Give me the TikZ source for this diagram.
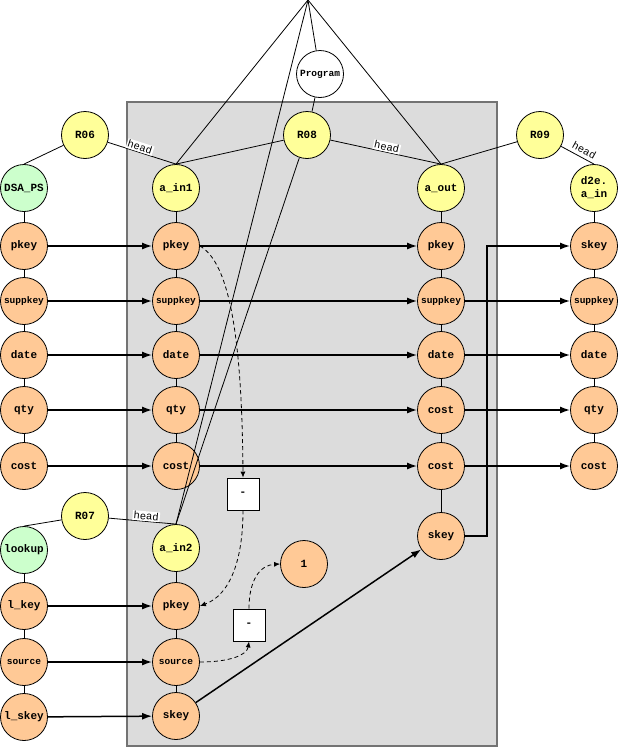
\documentclass[tikz,border=0pt]{standalone}
\usepackage{fontspec}
\setmonofont{Liberation Mono}
\usetikzlibrary{arrows.meta}
\definecolor{fldc}{HTML}{FFC996}
\definecolor{relc}{HTML}{FFFF99}
\definecolor{tblc}{HTML}{CCFFCC}
\definecolor{boxc}{HTML}{DCDCDC}

\begin{document}
\begin{tikzpicture}[x=1pt,y=-1pt,line width=0.8pt,
    every node/.style={font=\ttfamily\bfseries\fontsize{11}{12}\selectfont},
    circ/.style={circle,draw,minimum size=47pt,inner sep=0pt},
    fld/.style={circ,fill=fldc},
    rel/.style={circ,fill=relc},
    tbl/.style={circ,fill=tblc},
    small/.style={font=\ttfamily\bfseries\fontsize{9.5}{10}\selectfont},
    op/.style={draw,fill=white,minimum size=32pt,inner sep=0pt},
    flow/.style={line width=1.5pt,-{Latex[length=10pt,width=7pt]}},
    dflow/.style={dash pattern=on 4pt off 3pt,-{Latex[length=6pt,width=5pt]}},
    hd/.style={sloped,above,fill=white,inner sep=1pt,
        font=\ttfamily\fontsize{10.5}{10}\selectfont}]
    \useasboundingbox (0,0) rectangle (618,747);

    \draw[line width=1.4pt,draw=black!55,fill=boxc] (127,102) rectangle (497,746);
    \coordinate (top) at (308,0);

    % left tables
    \node[rel] (r06) at (85,135) {R06};
    \node[tbl] (dsa) at (24,188) {DSA\_PS};
    \node[fld] (lpkey) at (24,246) {pkey};
    \node[fld,small] (lsupp) at (24,301) {suppkey};
    \node[fld] (ldate) at (24,355) {date};
    \node[fld] (lqty) at (24,410) {qty};
    \node[fld] (lcost) at (24,466) {cost};
    \node[rel] (r07) at (85,516) {R07};
    \node[tbl] (look) at (24,550) {lookup};
    \node[fld] (lkey) at (24,606) {l\_key};
    \node[fld,small] (lsrc) at (24,662) {source};
    \node[fld] (lskey) at (24,717) {l\_skey};

    % program
    \node[circ,fill=white,small] (prog) at (320,74) {Program};
    \node[rel] (r08) at (307,135) {R08};
    \node[rel] (ain1) at (176,188) {a\_in1};
    \node[fld] (apkey) at (176,246) {pkey};
    \node[fld,small] (asupp) at (176,301) {suppkey};
    \node[fld] (adate) at (176,355) {date};
    \node[fld] (aqty) at (176,410) {qty};
    \node[fld] (acost) at (176,466) {cost};
    \node[rel] (ain2) at (176,548) {a\_in2};
    \node[fld] (bpkey) at (176,606) {pkey};
    \node[fld,small] (bsrc) at (176,662) {source};
    \node[fld] (bskey) at (176,716) {skey};
    \node[op] (m1) at (243,494) {-};
    \node[op] (m2) at (249,625) {-};
    \node[fld] (one) at (304,564) {1};
    \node[rel] (aout) at (441,188) {a\_out};
    \node[fld] (opkey) at (441,246) {pkey};
    \node[fld,small] (osupp) at (441,301) {suppkey};
    \node[fld] (odate) at (441,355) {date};
    \node[fld] (ocost) at (441,410) {cost};
    \node[fld] (ocost2) at (441,466) {cost};
    \node[fld] (oskey) at (441,536) {skey};

    % right table
    \node[rel] (r09) at (540,135) {R09};
    \node[rel,align=center,font=\ttfamily\bfseries\fontsize{11}{13}\selectfont] (din) at (594,188) {d2e.\\a\_in};
    \node[fld] (dskey) at (594,246) {skey};
    \node[fld,small] (dsupp) at (594,301) {suppkey};
    \node[fld] (ddate) at (594,355) {date};
    \node[fld] (dqty) at (594,410) {qty};
    \node[fld] (dcost) at (594,466) {cost};

    % structure
    \foreach \a/\b in {dsa/lpkey,lpkey/lsupp,lsupp/ldate,ldate/lqty,lqty/lcost,
        look/lkey,lkey/lsrc,lsrc/lskey,ain1/apkey,apkey/asupp,asupp/adate,
        adate/aqty,aqty/acost,ain2/bpkey,bpkey/bsrc,bsrc/bskey,aout/opkey,
        opkey/osupp,osupp/odate,odate/ocost,ocost/ocost2,ocost2/oskey,
        din/dskey,dskey/dsupp,dsupp/ddate,ddate/dqty,dqty/dcost}
        \draw (\a) -- (\b);

    \draw (r06) -- (dsa.north);
    \draw (r06) -- (ain1.north) node[hd,pos=0.45] {head};
    \draw (r07) -- (look.north);
    \draw (r07) -- (ain2.north) node[hd,pos=0.55] {head};
    \draw (r08) -- (ain1.north);
    \draw (r08) -- (aout.north) node[hd,pos=0.5] {head};
    \draw (r08) -- (ain2.north);
    \draw (r09) -- (aout.north);
    \draw (r09) -- (din.north) node[hd,pos=0.6,above=2pt] {head};
    \draw (prog) -- (r08);
    \draw (top) -- (prog);
    \draw (top) -- (ain1.north);
    \draw (top) -- (ain2.north);
    \draw (top) -- (aout.north);

    % data flow
    \draw[flow] (lpkey) -- (apkey);
    \draw[flow] (lsupp) -- (asupp);
    \draw[flow] (ldate) -- (adate);
    \draw[flow] (lqty) -- (aqty);
    \draw[flow] (lcost) -- (acost);
    \draw[flow] (lkey) -- (bpkey);
    \draw[flow] (lsrc) -- (bsrc);
    \draw[flow] (lskey) -- (bskey);
    \draw[flow] (apkey) -- (opkey);
    \draw[flow] (asupp) -- (osupp);
    \draw[flow] (adate) -- (odate);
    \draw[flow] (aqty) -- (ocost);
    \draw[flow] (acost) -- (ocost2);
    \draw[flow] (bskey) -- (oskey);
    \draw[flow] (osupp) -- (dsupp);
    \draw[flow] (odate) -- (ddate);
    \draw[flow] (ocost) -- (dqty);
    \draw[flow] (ocost2) -- (dcost);
    \draw[flow] (oskey.east) -- (487,536) |- (dskey.west);

    \draw[dflow] (apkey.east) .. controls (228,262) and (242,330) .. (m1.north);
    \draw[dflow] (m1.south) .. controls (243,560) and (230,595) .. (bpkey.east);
    \draw[dflow] (bsrc.east) .. controls (230,662) and (247,655) .. (m2.south);
    \draw[dflow] (m2.north) .. controls (249,580) and (260,565) .. (one.west);
\end{tikzpicture}
\end{document}
